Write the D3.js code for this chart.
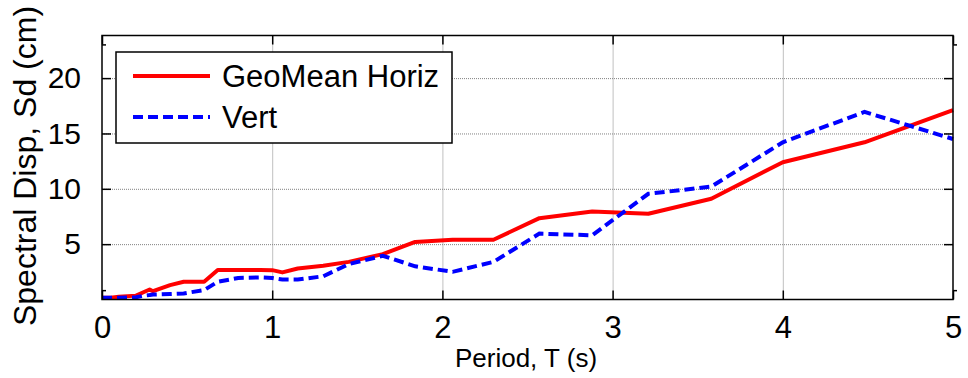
<!DOCTYPE html>
<html>
<head>
<meta charset="utf-8" />
<title>Spectral Disp</title>
<script src="https://cdn.jsdelivr.net/npm/d3@7"></script>
<style>
    html, body { margin: 0; padding: 0; background: #fff; }
    text { font-family: Arial, 'Liberation Sans', sans-serif; fill: #000; }
</style>
</head>
<body>
<script>
// periods (s)
var periods = [0, 0.05, 0.1, 0.2, 0.25, 0.28, 0.3, 0.4, 0.48, 0.6, 0.68, 0.8, 0.93, 1.0, 1.06, 1.15,
               1.3, 1.45, 1.65, 1.84, 2.06, 2.3, 2.57, 2.88, 3.21, 3.58, 4.0, 4.48, 5.0];
// spectral displacement (cm)
var geoMeanHoriz = [0.15, 0.15, 0.25, 0.35, 0.7, 0.9, 0.75, 1.3, 1.6, 1.6, 2.66, 2.66, 2.66, 2.65, 2.45, 2.8,
                    3.05, 3.4, 4.1, 5.2, 5.4, 5.4, 7.35, 7.95, 7.75, 9.1, 12.4, 14.2, 17.1];
var vert = [0.15, 0.15, 0.15, 0.2, 0.35, 0.4, 0.45, 0.5, 0.55, 0.85, 1.6, 1.95, 2.0, 1.95, 1.8, 1.8,
            2.1, 3.2, 3.95, 3.0, 2.5, 3.4, 5.95, 5.8, 9.55, 10.2, 14.2, 16.95, 14.5];

var xTicks = [0, 1, 2, 3, 4, 5];
var yTicks = [5, 10, 15, 20];
var yMinorTicks = [0.8, 23];
var seriesNames = ['GeoMean Horiz', 'Vert'];

var width = 968, height = 378;
var pl = 102, pr = 953, pt = 35.5, pb = 299.5; // plot box edges

var svg = d3.select('body').append('svg').attr('width', width).attr('height', height);

var x = d3.scaleLinear().domain([0, 5]).range([pl, pr]);
var y = d3.scaleLinear().domain([0, 23.85]).range([pb, pt]);

// grid
svg.append('g').attr('transform', 'translate(0,' + pb + ')')
    .call(d3.axisBottom(x).tickValues([1, 2, 3, 4]).tickSize(-(pb - pt)).tickFormat(''))
    .call(g => g.select('.domain').remove())
    .selectAll('line').attr('stroke', '#808080').attr('stroke-dasharray', '1,1');
svg.append('g').attr('transform', 'translate(' + pl + ',0)')
    .call(d3.axisLeft(y).tickValues(yTicks).tickSize(-(pr - pl)).tickFormat(''))
    .call(g => g.select('.domain').remove())
    .selectAll('line').attr('stroke', '#808080').attr('stroke-dasharray', '1,1');

// lines
var line = d3.line().x((d, i) => x(periods[i])).y(d => y(d));
svg.append('path').datum(geoMeanHoriz).attr('d', line)
    .attr('fill', 'none').attr('stroke', '#ff0000').attr('stroke-width', 4).attr('stroke-linejoin', 'round');
svg.append('path').datum(vert).attr('d', line)
    .attr('fill', 'none').attr('stroke', '#0000ff').attr('stroke-width', 4).attr('stroke-dasharray', '10,5');

// axes box
svg.append('rect').attr('x', pl).attr('y', pt).attr('width', pr - pl).attr('height', pb - pt)
    .attr('fill', 'none').attr('stroke', '#000').attr('stroke-width', 1.5);

var xb = svg.append('g').attr('transform', 'translate(0,' + pb + ')')
    .call(d3.axisBottom(x).tickValues(xTicks).tickSizeInner(-9).tickSizeOuter(0).tickPadding(16).tickFormat(d3.format('d')));
xb.select('.domain').remove();
xb.selectAll('line').attr('stroke-width', 1.5);
xb.selectAll('text').attr('font-size', 31).attr('font-family', null);

var xt = svg.append('g').attr('transform', 'translate(0,' + pt + ')')
    .call(d3.axisTop(x).tickValues(xTicks).tickSizeInner(-9).tickSizeOuter(0).tickFormat(''));
xt.select('.domain').remove();
xt.selectAll('line').attr('stroke-width', 1.5);

var yl = svg.append('g').attr('transform', 'translate(' + pl + ',0)')
    .call(d3.axisLeft(y).tickValues(yTicks).tickSizeInner(-9).tickSizeOuter(0).tickPadding(21));
yl.select('.domain').remove();
yl.selectAll('line').attr('stroke-width', 1.5);
yl.selectAll('text').attr('font-size', 30).attr('font-family', null);

var yr = svg.append('g').attr('transform', 'translate(' + pr + ',0)')
    .call(d3.axisRight(y).tickValues(yTicks).tickSizeInner(-9).tickSizeOuter(0).tickFormat(''));
yr.select('.domain').remove();
yr.selectAll('line').attr('stroke-width', 1.5);

// short ticks
svg.append('g').selectAll('line').data(yMinorTicks).enter().append('line')
    .attr('x1', pl).attr('x2', pl + 4).attr('y1', d => y(d)).attr('y2', d => y(d))
    .attr('stroke', '#000').attr('stroke-width', 1.5);
svg.append('g').selectAll('line').data(yMinorTicks).enter().append('line')
    .attr('x1', pr).attr('x2', pr + 4).attr('y1', d => y(d)).attr('y2', d => y(d))
    .attr('stroke', '#000').attr('stroke-width', 1.5);

// axis labels
svg.append('text').attr('x', 526).attr('y', 367).attr('text-anchor', 'middle')
    .attr('font-size', 26).text('Period, T (s)');
svg.append('text').attr('transform', 'translate(36,166) rotate(-90)').attr('text-anchor', 'middle')
    .attr('font-size', 32).text('Spectral Disp, Sd (cm)');

// legend
var lg = svg.append('g');
lg.append('rect').attr('x', 116).attr('y', 52).attr('width', 336).attr('height', 91)
    .attr('fill', '#fff').attr('stroke', '#000').attr('stroke-width', 1.5);
var items = lg.selectAll('.item').data(seriesNames).enter().append('g').attr('class', 'item')
    .attr('transform', (d, i) => 'translate(0,' + (76 + i * 41) + ')');
items.append('line').attr('x1', 133).attr('x2', 210).attr('y1', 0).attr('y2', 0)
    .attr('stroke', (d, i) => i === 0 ? '#ff0000' : '#0000ff').attr('stroke-width', 4)
    .attr('stroke-dasharray', (d, i) => i === 0 ? null : '10,5');
items.append('text').attr('x', 222).attr('y', 11).attr('font-size', 31).text(d => d);
</script>
</body>
</html>
